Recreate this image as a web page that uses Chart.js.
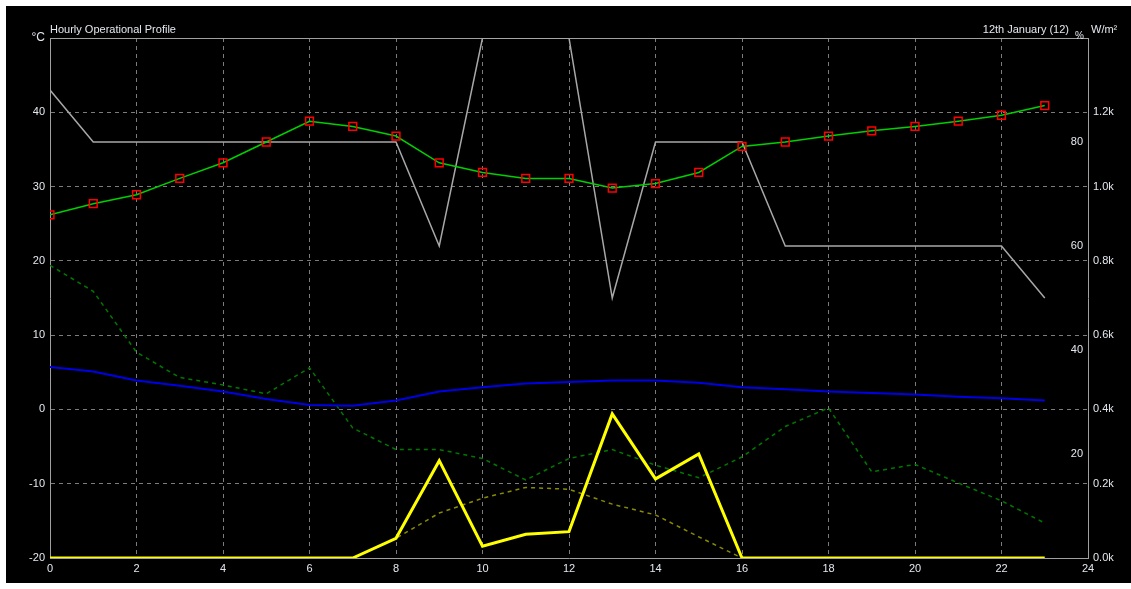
<!DOCTYPE html>
<html>
<head>
<meta charset="utf-8">
<title>Hourly Operational Profile</title>
<script src="https://cdn.jsdelivr.net/npm/chart.js@4.4.1/dist/chart.umd.min.js"></script>
<style>
  html, body { margin: 0; padding: 0; background: #ffffff; }
  #wrap { position: absolute; left: 6px; top: 6px; width: 1125px; height: 577px; background: #000000; }
</style>
</head>
<body>
<div id="wrap"><canvas id="profileChart" width="1125" height="577"></canvas></div>
<script>
// Dữ liệu theo giờ (0 -> 23)
const hours = [0, 1, 2, 3, 4, 5, 6, 7, 8, 9, 10, 11, 12, 13, 14, 15, 16, 17, 18, 19, 20, 21, 22, 23];

// °C
const dryBulbTemp = [26.2, 27.7, 28.9, 31.1, 33.2, 36.0, 38.8, 38.1, 36.8, 33.2, 31.9, 31.1, 31.1, 29.8, 30.4, 31.9, 35.4, 36.0, 36.8, 37.5, 38.1, 38.8, 39.6, 40.9];
const dewPointTemp = [5.7, 5.1, 3.9, 3.2, 2.4, 1.4, 0.6, 0.5, 1.2, 2.4, 3.0, 3.5, 3.7, 3.9, 3.9, 3.6, 3.0, 2.7, 2.4, 2.2, 2.0, 1.7, 1.5, 1.2];
const greenDashed = [19.4, 15.9, 7.7, 4.3, 3.3, 2.1, 5.6, -2.5, -5.4, -5.4, -6.6, -9.5, -6.6, -5.4, -7.5, -9.2, -6.4, -2.3, 0.2, -8.4, -7.4, -9.9, -12.3, -15.3];

// %
const relHumidity = [90, 80, 80, 80, 80, 80, 80, 80, 80, 60, 100, 100, 100, 50, 80, 80, 80, 60, 60, 60, 60, 60, 60, 50];

// W/m²
const directSolar = [0, 0, 0, 0, 0, 0, 0, 0, 53, 262, 32, 64, 71, 388, 213, 280, 0, 0, 0, 0, 0, 0, 0, 0];
const diffuseSolar = [0, 0, 0, 0, 0, 0, 0, 0, 53, 121, 161, 190, 185, 145, 116, 57, 0, 0, 0, 0, 0, 0, 0, 0];

// Trục
const hourRange = [0, 24, 2];
const tempRange = [-20, 50, 10];
const pctRange = [0, 100, 20];
const solarRange = [0, 1400, 200];

const chartTitle = 'Hourly Operational Profile';
const dateLabel = '12th January (12)';

const FONT = '"Liberation Sans", Arial, sans-serif';
const TEXT_COLOR = '#e4e8ee';
const FRAME_COLOR = '#a0a0a0';
const GRID_COLOR = '#7c7c7c';

function toPoints(values) {
  return hours.map((h, i) => ({ x: h, y: values[i] }));
}

// Vẽ các chữ tiêu đề và đơn vị
const headerPlugin = {
  id: 'header',
  afterDraw(chart) {
    const { ctx, chartArea } = chart;
    ctx.save();
    ctx.fillStyle = TEXT_COLOR;
    ctx.textBaseline = 'alphabetic';

    ctx.font = '11px ' + FONT;
    ctx.textAlign = 'left';
    ctx.fillText(chartTitle, chartArea.left, chartArea.top - 5);

    ctx.textAlign = 'right';
    ctx.fillText(dateLabel, chartArea.right - 19, chartArea.top - 5);

    ctx.font = '12px ' + FONT;
    ctx.fillText('°C', chartArea.left - 5, chartArea.top + 3);

    ctx.font = '10px ' + FONT;
    ctx.fillText('%', chartArea.right - 4, chartArea.top + 1);

    ctx.font = '11px ' + FONT;
    ctx.textAlign = 'left';
    ctx.fillText('W/m²', chartArea.right + 3, chartArea.top - 5);
    ctx.restore();
  }
};

const ctx = document.getElementById('profileChart').getContext('2d');

new Chart(ctx, {
  type: 'line',
  data: {
    datasets: [
      {
        label: 'Dry Bulb Temperature',
        data: toPoints(dryBulbTemp),
        yAxisID: 'y',
        borderColor: '#00d000',
        borderWidth: 1.5,
        pointStyle: 'rect',
        pointRadius: 5.5,
        pointBorderColor: '#ff0000',
        pointBackgroundColor: 'rgba(0,0,0,0)',
        pointBorderWidth: 1.5,
      },
      {
        label: 'Direct Solar',
        data: toPoints(directSolar),
        yAxisID: 'yW',
        borderColor: '#ffff00',
        borderWidth: 3,
        pointRadius: 0,
      },
      {
        label: 'Dew Point',
        data: toPoints(dewPointTemp),
        yAxisID: 'y',
        borderColor: '#0000e6',
        borderWidth: 2,
        pointRadius: 0,
      },
      {
        label: 'Relative Humidity',
        data: toPoints(relHumidity),
        yAxisID: 'yPct',
        borderColor: '#a8a8a8',
        borderWidth: 1.5,
        pointRadius: 0,
      },
      {
        label: 'Wind',
        data: toPoints(greenDashed),
        yAxisID: 'y',
        borderColor: '#007800',
        borderWidth: 1.5,
        borderDash: [4, 4],
        pointRadius: 0,
      },
      {
        label: 'Diffuse Solar',
        data: toPoints(diffuseSolar),
        yAxisID: 'yW',
        borderColor: '#8a8a00',
        borderWidth: 1.5,
        borderDash: [4, 4],
        pointRadius: 0,
      },
    ],
  },
  options: {
    responsive: false,
    animation: false,
    layout: { padding: { top: 32, left: 0, right: 0, bottom: 0 } },
    plugins: {
      legend: { display: false },
      title: { display: false },
      tooltip: { enabled: false },
    },
    scales: {
      x: {
        type: 'linear',
        position: 'bottom',
        min: hourRange[0],
        max: hourRange[1],
        ticks: { stepSize: hourRange[2], color: TEXT_COLOR, font: { family: FONT, size: 11 }, padding: 4, maxRotation: 0 },
        grid: { color: GRID_COLOR, drawTicks: false },
        border: { color: FRAME_COLOR, dash: [4, 4] },
        afterFit(scale) { scale.height = 25; },
      },
      xTop: {
        type: 'linear',
        position: 'top',
        min: hourRange[0],
        max: hourRange[1],
        ticks: { display: false },
        grid: { display: false, drawTicks: false },
        border: { color: FRAME_COLOR },
        afterFit(scale) { scale.height = 0; },
      },
      y: {
        type: 'linear',
        position: 'left',
        min: tempRange[0],
        max: tempRange[1],
        ticks: {
          stepSize: tempRange[2],
          color: TEXT_COLOR,
          font: { family: FONT, size: 11 },
          padding: 5,
          callback: v => (v >= tempRange[1] ? '' : v),
        },
        grid: { color: GRID_COLOR, drawTicks: false },
        border: { color: FRAME_COLOR, dash: [4, 4] },
        afterFit(scale) { scale.width = 44; },
      },
      yPct: {
        type: 'linear',
        position: 'right',
        weight: 0,
        min: pctRange[0],
        max: pctRange[1],
        ticks: {
          stepSize: pctRange[2],
          mirror: true,
          padding: -5,
          color: TEXT_COLOR,
          font: { family: FONT, size: 11 },
          callback: v => (v > pctRange[0] && v < pctRange[1] ? v : ''),
        },
        grid: { display: false, drawTicks: false },
        border: { color: FRAME_COLOR },
        afterFit(scale) { scale.width = 0; },
      },
      yW: {
        type: 'linear',
        position: 'right',
        weight: 1,
        min: solarRange[0],
        max: solarRange[1],
        ticks: {
          stepSize: solarRange[2],
          padding: 5,
          color: TEXT_COLOR,
          font: { family: FONT, size: 11 },
          callback: v => (v >= solarRange[1] ? '' : (v / 1000).toFixed(1) + 'k'),
        },
        grid: { display: false, drawTicks: false },
        border: { display: false },
        afterFit(scale) { scale.width = 43; },
      },
    },
  },
  plugins: [headerPlugin],
});
</script>
</body>
</html>
